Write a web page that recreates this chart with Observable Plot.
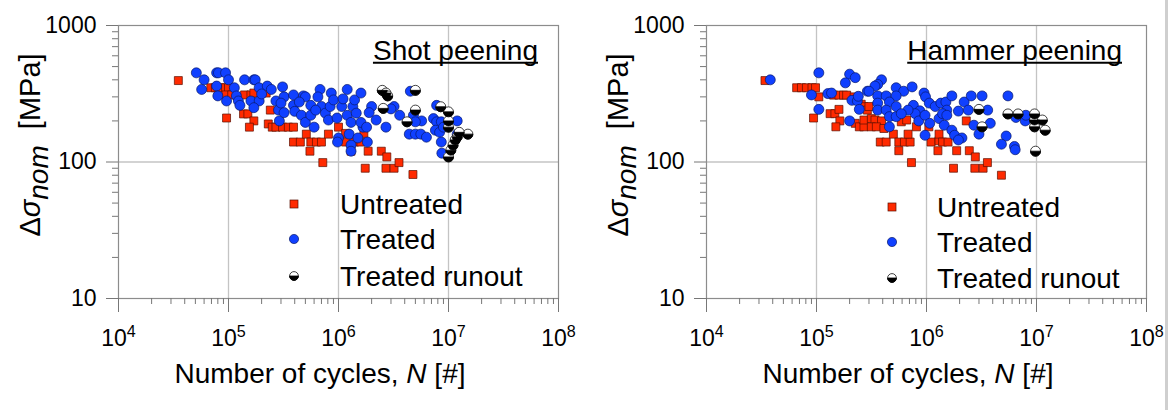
<!DOCTYPE html>
<html>
<head>
<meta charset="utf-8">
<script src="https://cdn.jsdelivr.net/npm/d3@7"></script>
<script src="https://cdn.jsdelivr.net/npm/@observablehq/plot@0.6"></script>
<style>
  html, body { margin: 0; padding: 0; background: #fff; }
  #wrap { position: relative; width: 1170px; height: 410px; overflow: hidden; font-family: "Liberation Sans", Arial, sans-serif; }
  #left, #right { position: absolute; top: 0; }
  #left { left: 0; }
  #right { left: 585px; }
  #edge { position: absolute; left: 1165px; top: 0; width: 3px; height: 410px; background: #cfcfcf; }
</style>
</head>
<body>
<div id="wrap">
  <div id="left"></div>
  <div id="right"></div>
  <div id="edge"></div>
</div>
<script>
// Fatigue test results: [cycles N, nominal stress range Δσ in MPa]

const shotUntreated = [
  [3.5e4, 395],
  [6.9e4, 350], [7.6e4, 350], [8.4e4, 350], [9.4e4, 350], [1.0e5, 350],
  [9.5e4, 310], [1.07e5, 310], [9.6e4, 210],
  [1.4e5, 310], [1.6e5, 310], [1.7e5, 320], [2.0e5, 320], [2.2e5, 320],
  [1.37e5, 225], [1.5e5, 225], [1.7e5, 200], [1.55e5, 180],
  [2.4e5, 240], [2.3e5, 190], [2.5e5, 180], [2.7e5, 180],
  [3.1e5, 180], [3.5e5, 180], [3.9e5, 180],
  [3.9e5, 140], [4.5e5, 140], [5.1e5, 160],
  [5.6e5, 140], [6.3e5, 140], [7.0e5, 140], [8.1e5, 160],
  [5.5e5, 120], [7.2e5, 99],
  [1.0e6, 180], [1.16e6, 162], [1.7e6, 162],
  [1.16e6, 140], [1.3e6, 120], [1.4e6, 140], [1.6e6, 140],
  [1.86e6, 120], [1.75e6, 90],
  [2.45e6, 120], [2.75e6, 109], [2.7e6, 90], [3.2e6, 90], [3.55e6, 99],
  [4.75e6, 81]
];

const shotTreated = [
  [5.1e4, 450], [6.0e4, 400], [5.7e4, 340], [7.8e4, 450], [8.1e4, 450], [9.4e4, 450],
  [1.0e5, 400], [7.8e4, 360], [1.13e5, 350], [8.0e4, 305], [9.6e4, 280], [1.18e5, 305],
  [1.23e5, 280], [1.27e5, 260], [1.4e5, 400], [1.7e5, 400], [1.75e5, 400], [1.9e5, 350],
  [1.6e5, 280], [1.9e5, 280], [1.7e5, 250], [2.25e5, 360], [2.45e5, 340], [2.0e5, 315],
  [2.7e5, 280], [2.85e5, 240], [2.9e5, 200],
  [3.1e5, 355], [3.2e5, 300], [3.0e5, 270], [3.2e5, 230], [3.9e5, 260], [4.0e5, 235],
  [4.8e5, 305], [5.0e5, 300], [5.6e5, 260], [4.6e5, 220], [5.0e5, 195], [5.6e5, 220],
  [6.0e5, 180], [6.8e5, 340], [7.0e5, 255], [7.6e5, 228], [8.4e5, 255], [8.1e5, 203],
  [8.6e5, 320], [9.0e5, 285], [9.7e5, 210], [1.0e6, 150], [9.8e5, 140], [1.07e6, 255],
  [1.2e6, 340], [1.2e6, 220], [1.25e6, 160], [1.3e6, 195], [1.35e6, 255], [1.4e6, 285],
  [1.45e6, 228], [1.5e6, 150], [1.6e6, 320], [1.67e6, 180], [1.83e6, 140], [1.6e6, 195],
  [1.8e6, 180], [2.0e6, 255], [1.3e6, 133], [1.3e6, 120], [2.2e6, 203], [2.7e6, 180],
  [3.9e5, 310], [4.4e5, 275], [6.5e5, 300], [6.2e5, 240], [1.1e6, 290], [1.9e6, 230],
  [4.5e6, 330], [3.2e6, 255], [3.0e6, 245], [3.6e6, 220], [4.8e6, 220], [5.7e6, 200],
  [5.0e6, 197], [4.4e6, 160], [5.0e6, 160], [5.6e6, 160], [6.3e6, 152], [7.8e6, 260],
  [7.3e6, 208], [7.8e6, 197], [7.6e6, 171], [8.6e6, 197], [8.3e6, 165], [9.0e6, 180],
  [1.2e7, 200], [1.2e7, 160], [8.6e6, 140], [8.7e6, 116]
];

const shotRunout = [
  [2.5e6, 335], [2.7e6, 320], [2.8e6, 305], [2.55e6, 247],
  [4.2e6, 197], [5.0e6, 335], [5.0e6, 240],
  [8.5e6, 254], [1.0e7, 233], [1.0e7, 200], [1.0e7, 180],
  [1.2e7, 153], [1.15e7, 145], [1.1e7, 133], [1.05e7, 122], [1.0e7, 109],
  [1.5e7, 160], [1.25e7, 165]
];

const hammerUntreated = [
  [3.4e4, 395],
  [6.6e4, 350], [7.3e4, 350], [8.1e4, 350], [9.1e4, 350], [9.8e4, 350],
  [1.05e5, 300], [9.4e4, 210],
  [1.43e5, 309], [1.6e5, 309], [1.76e5, 309], [1.88e5, 309],
  [1.33e5, 226], [1.47e5, 226], [1.6e5, 243], [1.63e5, 200], [1.5e5, 181],
  [2.2e5, 300], [2.55e5, 265], [2.7e5, 254], [2.9e5, 240],
  [2.25e5, 192], [2.45e5, 181], [2.7e5, 181], [2.7e5, 203],
  [3.0e5, 255], [3.15e5, 208], [3.4e5, 203], [3.9e5, 200],
  [3.15e5, 181], [3.5e5, 181], [4.1e5, 176],
  [3.8e5, 140], [4.3e5, 140], [5.0e5, 160], [5.6e5, 140], [6.3e5, 140], [7.1e5, 140],
  [5.9e5, 197], [6.6e5, 203], [5.6e5, 121], [6.8e5, 160], [7.3e5, 99], [8.1e5, 181],
  [1.05e6, 181], [1.1e6, 140], [1.27e6, 121], [1.3e6, 143], [1.3e6, 160], [1.4e6, 140],
  [1.57e6, 140], [1.88e6, 121], [1.76e6, 90],
  [2.3e6, 200], [2.45e6, 121], [2.78e6, 109], [2.75e6, 90], [3.27e6, 90], [3.58e6, 99],
  [4.8e6, 80]
];

const hammerTreated = [
  [3.8e4, 400], [1.05e5, 450], [9.0e4, 310], [1.05e5, 243], [1.27e5, 317], [1.37e5, 320],
  [2.0e5, 440], [2.25e5, 415], [1.83e5, 380], [2.0e5, 200], [2.1e5, 283], [2.35e5, 280],
  [2.4e5, 303], [2.45e5, 243], [2.9e5, 330],
  [3.9e5, 400], [3.6e5, 370], [3.4e5, 360], [3.0e5, 330], [5.3e5, 350], [6.2e5, 330],
  [7.4e5, 355], [3.6e5, 305], [4.3e5, 305], [5.3e5, 305], [3.6e5, 270], [4.6e5, 275],
  [3.6e5, 240], [4.3e5, 240], [5.3e5, 255], [4.6e5, 215], [5.3e5, 215], [4.6e5, 181],
  [9.5e5, 320], [9.8e5, 300], [1.06e6, 270], [1.2e6, 255], [7.6e5, 260], [8.7e5, 237],
  [7.9e5, 226], [8.5e5, 200], [9.7e5, 220], [1.07e6, 192], [9.7e5, 157], [1.3e6, 208],
  [1.35e6, 270], [1.5e6, 275], [1.53e6, 240], [1.7e6, 305], [1.95e6, 236], [1.45e6, 186],
  [1.7e6, 171], [1.8e6, 157], [2.1e6, 150], [1.95e6, 145], [2.2e6, 275], [2.55e6, 305],
  [2.4e6, 240], [2.7e6, 186], [1.4e6, 226], [1.53e6, 220], [6.8e5, 240], [5.9e5, 226],
  [3.2e6, 305], [5.5e6, 305], [3.6e6, 240], [3.8e6, 192], [3.0e6, 160], [5.3e6, 155],
  [4.8e6, 135], [6.3e6, 130], [6.5e6, 212], [7.9e6, 200], [8.0e6, 220], [6.4e6, 123]
];

const hammerRunout = [
  [3.0e6, 243], [3.2e6, 181], [5.5e6, 225], [6.8e6, 225], [9.6e6, 225],
  [9.6e6, 203], [1.13e7, 203], [9.6e6, 181], [1.2e7, 171], [9.8e6, 120]
];

// Axis ticks
const xMajorTicks = [1e4, 1e5, 1e6, 1e7, 1e8];
const yMajorTicks = [10, 100, 1000];
const minorSteps = [2, 3, 4, 5, 6, 7, 8, 9];
const xMinorTicks = [1e4, 1e5, 1e6, 1e7].flatMap(d => minorSteps.map(m => m * d));
const yMinorTicks = [10, 100].flatMap(d => minorSteps.map(m => m * d));

const legendLabels = ["Untreated", "Treated", "Treated runout"];

const RED = "#ff2a00", RED_EDGE = "#5a1000";
const BLUE = "#1040ff", BLUE_EDGE = "#08186a";
const FONT = "'Liberation Sans', Arial, sans-serif";

// Lower half of a disc, used to shade run-out specimens
const lowerHalf = {
  draw(ctx, size) {
    const r = Math.sqrt(size / Math.PI);
    ctx.moveTo(r, 0);
    ctx.arc(0, 0, r, 0, Math.PI);
    ctx.closePath();
  }
};

function panel(el, cfg) {
  const svgNode = Plot.plot({
    width: 585,
    height: 410,
    marginTop: 25,
    marginBottom: 112,
    marginLeft: cfg.marginLeft,
    marginRight: cfg.marginRight,
    style: { fontFamily: FONT, background: "white", overflow: "visible", color: "black" },
    x: { type: "log", domain: [1e4, 1e8], label: null },
    y: { type: "log", domain: [10, 1000], label: null },
    marks: [
      Plot.ruleX([1e5, 1e6, 1e7], { stroke: "#c4c4c4", strokeWidth: 1.3 }),
      Plot.ruleY([100], { stroke: "#c4c4c4", strokeWidth: 1.3 }),
      Plot.frame({ stroke: "#8c8c8c", strokeWidth: 1.2 }),
      Plot.axisX({ ticks: xMinorTicks, tickSize: 6, tickFormat: () => "", stroke: "#777" }),
      Plot.axisX({ ticks: xMajorTicks, tickSize: 14, tickPadding: 17, fontSize: 23,
        tickFormat: d => String(Math.round(Math.log10(d))), stroke: "#777", fill: "black" }),
      Plot.axisY({ ticks: yMinorTicks, tickSize: 6, tickFormat: () => "", stroke: "#777" }),
      Plot.axisY({ ticks: yMajorTicks, tickSize: 12, tickPadding: 10, fontSize: 23,
        tickFormat: d => String(d), stroke: "#777", fill: "black" }),
      Plot.dot(cfg.untreated, { x: d => d[0], y: d => d[1], symbol: "square", r: 4.5,
        fill: RED, stroke: RED_EDGE, strokeWidth: 0.7 }),
      Plot.dot(cfg.treated, { x: d => d[0], y: d => d[1], r: 5,
        fill: BLUE, stroke: BLUE_EDGE, strokeWidth: 0.7 }),
      Plot.dot(cfg.runout, { x: d => d[0], y: d => d[1], r: 5,
        fill: "white", stroke: "#111", strokeWidth: 0.8 }),
      Plot.dot(cfg.runout, { x: d => d[0], y: d => d[1], r: 5, symbol: lowerHalf,
        fill: "#000", stroke: "#000", strokeWidth: 0.8 })
    ]
  });
  el.appendChild(svgNode);
  const svg = d3.select(svgNode);

  // Powers of ten on the cycle axis
  svg.selectAll('g[aria-label="x-axis tick label"] text').each(function () {
    const exp = this.textContent;
    if (!exp) return;
    this.textContent = "";
    const t = d3.select(this);
    t.append("tspan").text("10");
    t.append("tspan").attr("dy", "-0.55em").attr("font-size", "0.7em").text(exp);
  });

  // Axis titles
  const xl = svg.append("text").attr("x", cfg.xLabelX).attr("y", 383)
    .attr("text-anchor", "middle").attr("font-size", 28).attr("fill", "black");
  xl.append("tspan").text("Number of cycles, ");
  xl.append("tspan").attr("font-style", "italic").text("N");
  xl.append("tspan").text(" [#]");

  const yl = svg.append("text")
    .attr("transform", `translate(${cfg.yLabelX},145) rotate(-90)`)
    .attr("text-anchor", "middle").attr("font-size", 29).attr("fill", "black");
  yl.append("tspan").text("Δ");
  yl.append("tspan").attr("font-style", "italic").text("σ");
  yl.append("tspan").attr("font-style", "italic").attr("font-size", 28).attr("dy", 8).text("nom");
  yl.append("tspan").attr("dy", -8).attr("dx", 8).text(" [MPa]");

  // Panel heading, underlined
  const title = svg.append("text").attr("x", cfg.titleRight).attr("y", 60)
    .attr("text-anchor", "end").attr("font-size", 28).attr("fill", "black").text(cfg.title);
  const bb = title.node().getBBox();
  svg.append("line").attr("x1", bb.x).attr("x2", bb.x + bb.width)
    .attr("y1", 62.8).attr("y2", 62.8).attr("stroke", "black").attr("stroke-width", 2);

  // Legend
  const lg = svg.append("g").attr("text-anchor", "start");
  const [r0, r1, r2] = cfg.legendRows;
  lg.append("rect").attr("x", cfg.legendMarkX - 4).attr("y", r0 - 4)
    .attr("width", 8).attr("height", 8).attr("fill", RED).attr("stroke", RED_EDGE).attr("stroke-width", 0.7);
  lg.append("circle").attr("cx", cfg.legendMarkX).attr("cy", r1).attr("r", 4.6)
    .attr("fill", BLUE).attr("stroke", BLUE_EDGE).attr("stroke-width", 0.7);
  lg.append("circle").attr("cx", cfg.legendMarkX).attr("cy", r2).attr("r", 4.4)
    .attr("fill", "white").attr("stroke", "#111").attr("stroke-width", 0.8);
  lg.append("path").attr("d", d3.arc()({ innerRadius: 0, outerRadius: 4.4, startAngle: Math.PI / 2, endAngle: 3 * Math.PI / 2 }))
    .attr("transform", `translate(${cfg.legendMarkX},${r2})`).attr("fill", "#000").attr("stroke", "#000").attr("stroke-width", 0.8);
  legendLabels.forEach((label, i) => {
    lg.append("text").attr("x", cfg.legendTextX).attr("y", cfg.legendRows[i] + 10)
      .attr("text-anchor", "start").attr("font-size", 28).attr("fill", "black").text(label);
  });
}

panel(document.getElementById("left"), {
  title: "Shot peening",
  untreated: shotUntreated, treated: shotTreated, runout: shotRunout,
  marginLeft: 118, marginRight: 27,
  xLabelX: 320, yLabelX: 40, titleRight: 538,
  legendMarkX: 294, legendTextX: 340, legendRows: [204, 239, 276]
});

panel(document.getElementById("right"), {
  title: "Hammer peening",
  untreated: hammerUntreated, treated: hammerTreated, runout: hammerRunout,
  marginLeft: 121, marginRight: 24,
  xLabelX: 323, yLabelX: 43, titleRight: 537,
  legendMarkX: 307, legendTextX: 352, legendRows: [207, 242, 278]
});
</script>
</body>
</html>
